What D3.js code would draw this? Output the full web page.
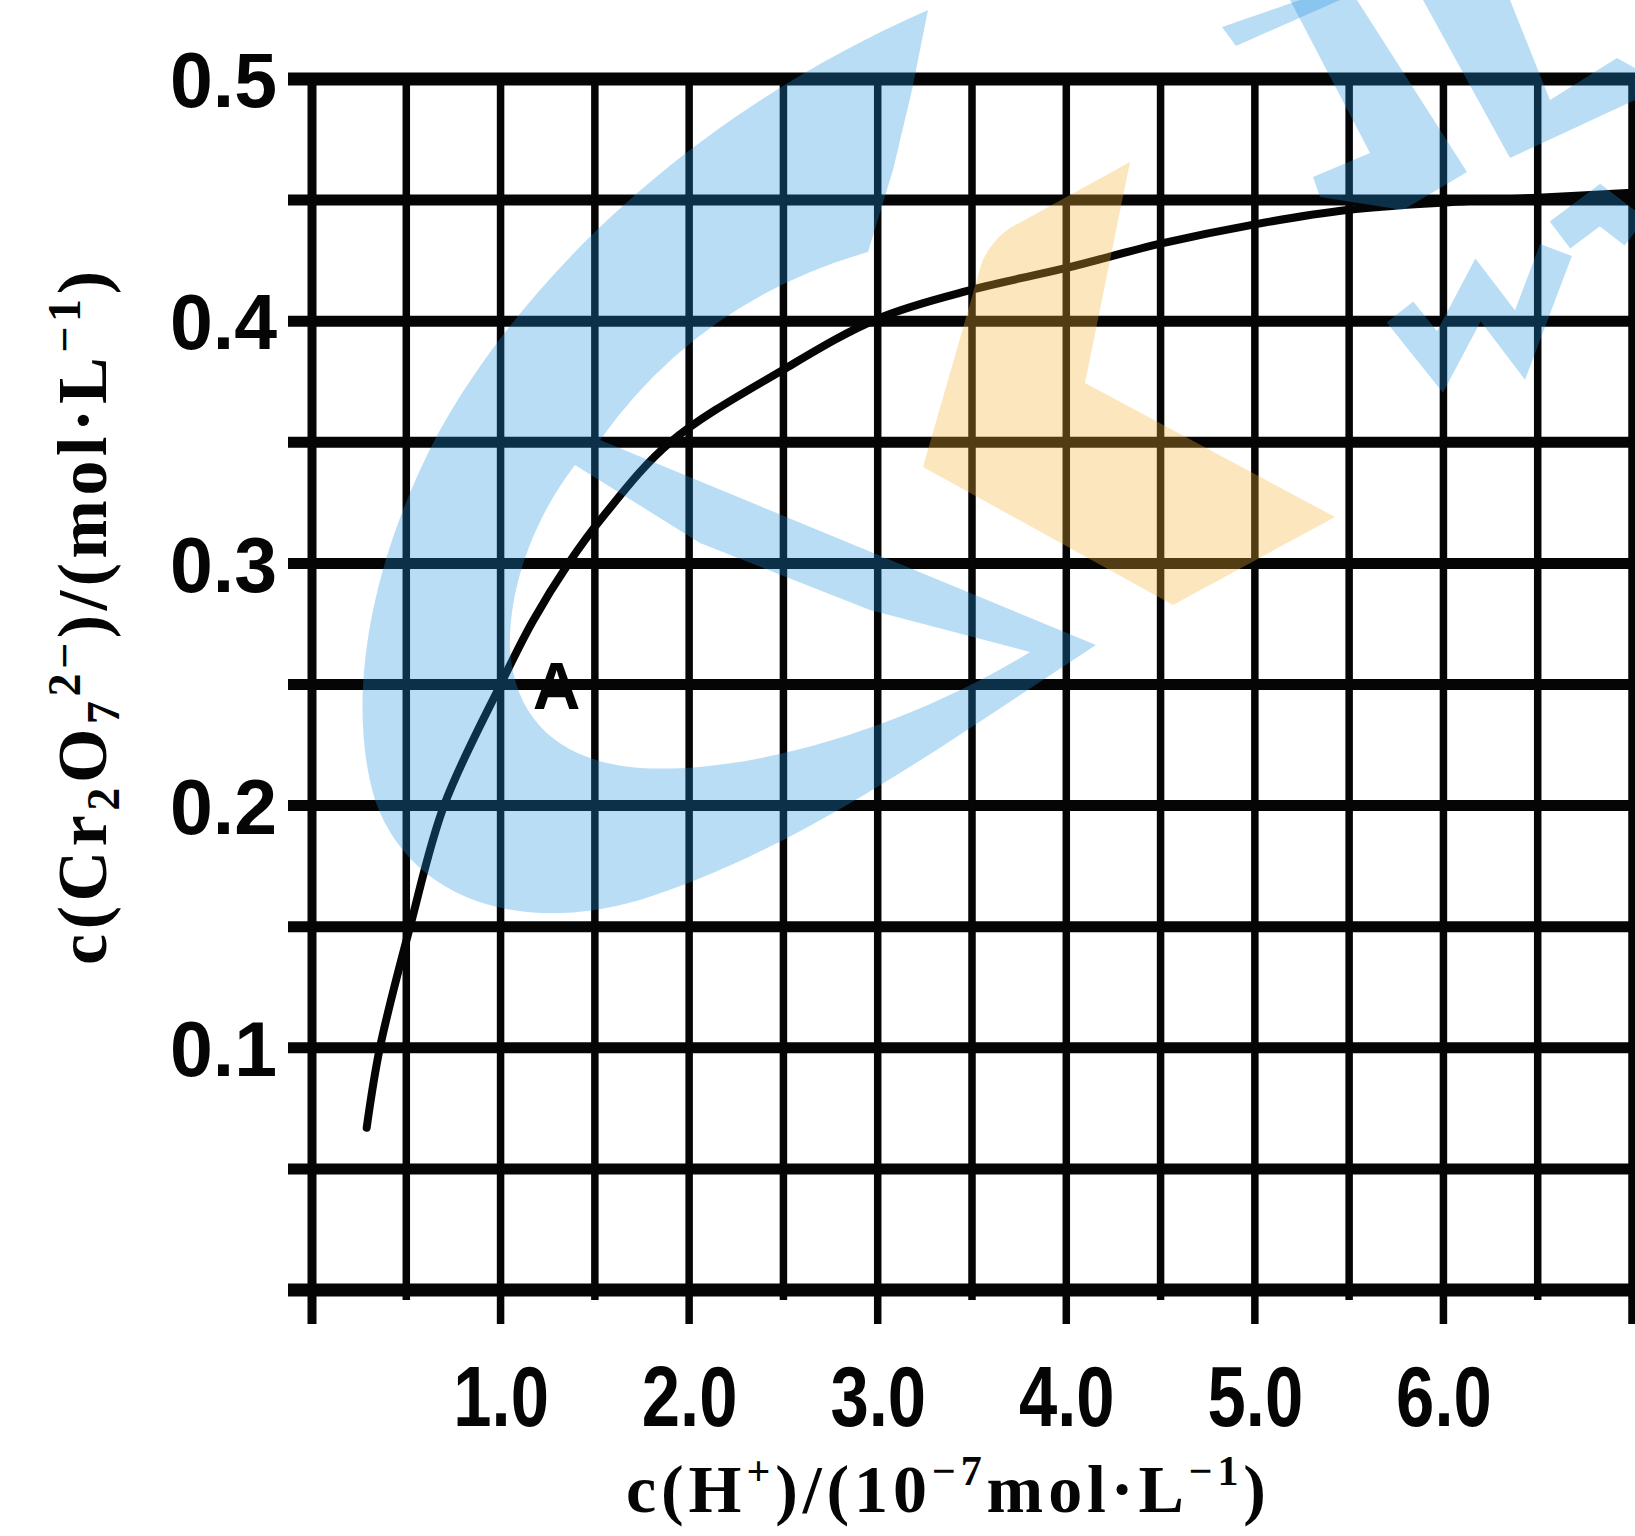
<!DOCTYPE html>
<html>
<head>
<meta charset="utf-8">
<script src="https://cdn.jsdelivr.net/npm/d3@7/dist/d3.min.js"></script>
<style>
  html, body { margin: 0; padding: 0; background: #ffffff; }
  svg { display: block; }
</style>
</head>
<body>
<svg id="chart" width="1635" height="1536"></svg>
<script>
// ---------------- data ----------------
const xTickValues = [1.0, 2.0, 3.0, 4.0, 5.0, 6.0];
const yTickValues = [0.1, 0.2, 0.3, 0.4, 0.5];
const xGridValues = [0, 0.5, 1.0, 1.5, 2.0, 2.5, 3.0, 3.5, 4.0, 4.5, 5.0, 5.5, 6.0, 6.5, 7.0];
const yGridValues = [0, 0.05, 0.10, 0.15, 0.20, 0.25, 0.30, 0.35, 0.40, 0.45, 0.50];
// c(H+) / 10^-7 mol·L^-1
const curveX = [0.29, 0.36, 0.52, 0.70, 1.00, 1.17, 1.36, 1.55, 1.90, 2.50, 3.00, 3.50, 4.00, 4.50, 5.00, 5.50, 6.00, 6.50, 7.00];
// c(Cr2O7 2-) / mol·L^-1
const curveY = [0.067, 0.100, 0.150, 0.200, 0.250, 0.276, 0.300, 0.320, 0.350, 0.380, 0.401, 0.413, 0.422, 0.432, 0.440, 0.446, 0.449, 0.451, 0.453];
const pointA = { x: 1.0, y: 0.25, label: "A" };

// ---------------- setup ----------------
const svg = d3.select("#chart");
const W = 1635, H = 1536;
svg.append("rect").attr("width", W).attr("height", H).attr("fill", "#ffffff");

const x = d3.scaleLinear().domain([0, 7]).range([312, 1632]);
const y = d3.scaleLinear().domain([0, 0.5]).range([1290, 79]);

const ink = "#050505";
const g = svg.append("g");

// horizontal grid lines
g.selectAll("line.h").data(yGridValues).enter().append("line")
  .attr("class", "h")
  .attr("x1", 288).attr("x2", W)
  .attr("y1", d => y(d)).attr("y2", d => y(d))
  .attr("stroke", ink)
  .attr("stroke-width", d => (d === 0 || d === 0.5) ? 13 : 11);

// vertical grid lines (with ticks hanging below the bottom line)
g.selectAll("line.v").data(xGridValues).enter().append("line")
  .attr("class", "v")
  .attr("x1", d => x(d)).attr("x2", d => x(d))
  .attr("y1", y(0.5))
  .attr("y2", d => Number.isInteger(d) ? y(0) + 34 : y(0) + 10)
  .attr("stroke", ink)
  .attr("stroke-width", d => d === 0 ? 9 : 7.5);

// curve
const pts = curveX.map((v, i) => [v, curveY[i]]);
const line = d3.line().x(d => x(d[0])).y(d => y(d[1])).curve(d3.curveCatmullRom.alpha(0.5));
g.append("path").datum(pts)
  .attr("d", line)
  .attr("fill", "none")
  .attr("stroke", ink)
  .attr("stroke-width", 8)
  .attr("stroke-linecap", "round");

// point label A
g.append("text")
  .attr("x", x(pointA.x) + 56).attr("y", y(pointA.y) + 24)
  .attr("text-anchor", "middle")
  .attr("font-family", "Liberation Sans, Arial, sans-serif")
  .attr("font-weight", "bold")
  .attr("font-size", 66)
  .attr("fill", ink)
  .text(pointA.label);

// axes (labels only)
const yAxis = d3.axisLeft(y).tickValues(yTickValues).tickFormat(d3.format(".1f")).tickSize(0).tickPadding(0);
const ya = svg.append("g").attr("transform", "translate(170,0)").call(yAxis);
ya.select(".domain").remove();
ya.selectAll("text")
  .attr("text-anchor", "start")
  .attr("font-family", "Liberation Sans, Arial, sans-serif")
  .attr("font-weight", "bold")
  .attr("font-size", 77)
  .attr("fill", ink)
  .attr("dy", "0.36em");

const xAxis = d3.axisBottom(x).tickValues(xTickValues).tickFormat(d3.format(".1f")).tickSize(0).tickPadding(0);
const xa = svg.append("g").attr("transform", "translate(0,1364)").call(xAxis);
xa.select(".domain").remove();
xa.selectAll("text")
  .attr("font-family", "Liberation Sans, Arial, sans-serif")
  .attr("font-weight", "bold")
  .attr("font-size", 86)
  .attr("fill", ink)
  .attr("dy", "0.72em")
  .each(function () {
    const w = this.getComputedTextLength();
    d3.select(this).attr("textLength", w * 0.8).attr("lengthAdjust", "spacingAndGlyphs");
  });

// axis titles
const serif = "Liberation Serif, Times New Roman, serif";
const yt = svg.append("text")
  .attr("transform", "translate(106,618) rotate(-90)")
  .attr("text-anchor", "middle")
  .attr("font-family", serif).attr("font-weight", "bold").attr("font-size", 70)
  .attr("fill", ink)
  .attr("textLength", 694).attr("lengthAdjust", "spacing");
yt.append("tspan").text("c(Cr");
yt.append("tspan").attr("font-size", 46).attr("dy", 13).text("2");
yt.append("tspan").attr("dy", -13).text("O");
yt.append("tspan").attr("font-size", 46).attr("dy", 13).text("7");
yt.append("tspan").attr("font-size", 46).attr("dy", -39).text("2−");
yt.append("tspan").attr("dy", 26).text(")/(mol·L");
yt.append("tspan").attr("font-size", 46).attr("dy", -26).text("−1");
yt.append("tspan").attr("dy", 26).text(")");

const xt = svg.append("text")
  .attr("x", 946).attr("y", 1512)
  .attr("text-anchor", "middle")
  .attr("font-family", serif).attr("font-weight", "bold").attr("font-size", 68)
  .attr("fill", ink)
  .attr("textLength", 640).attr("lengthAdjust", "spacing");
xt.append("tspan").text("c(H");
xt.append("tspan").attr("font-size", 42).attr("dy", -27).text("+");
xt.append("tspan").attr("dy", 27).text(")/(10");
xt.append("tspan").attr("font-size", 42).attr("dy", -27).text("−7");
xt.append("tspan").attr("dy", 27).text("mol·L");
xt.append("tspan").attr("font-size", 42).attr("dy", -27).text("−1");
xt.append("tspan").attr("dy", 27).text(")");

// ---------------- watermark (decorative) ----------------
const wm = svg.append("g").attr("pointer-events", "none");
const blue = "rgb(32,145,226)", orange = "rgb(247,178,53)";
wm.append("path")
  .attr("fill-rule", "evenodd")
  .attr("fill", blue).attr("fill-opacity", 0.31)
  .attr("d",
    "M928,10 L912,90 L893,170 L868,252 Q700,300 600,440 L1096,645 " +
    "C950,740 800,850 640,900 C520,935 410,900 375,800 C345,700 370,560 440,430 C530,270 700,110 928,10 Z " +
    "M575,465 L700,543 L870,610 L1030,652 C920,720 760,775 640,768 C560,762 515,720 510,650 C508,580 540,510 575,465 Z");
wm.append("path")
  .attr("fill", orange).attr("fill-opacity", 0.32)
  .attr("d", "M1130,162 L1085,383 L1335,517 L1173,605 L923,467 L982,262 Q992,240 1010,228 Z");
const tr = [
  "M1222,27 L1300,0 L1340,0 L1236,46 Z",
  "M1290,0 L1357,0 L1467,172 L1403,210 L1320,197 L1313,177 L1370,153 Z",
  "M1423,0 L1510,0 L1550,100 L1617,58 L1635,68 L1635,100 L1510,158 Z"
];
tr.forEach(d => wm.append("path").attr("d", d).attr("fill", blue).attr("fill-opacity", 0.31));
wm.append("path")
  .attr("d", "M1400,312 L1440,362 L1478,290 L1520,345 L1556,250")
  .attr("fill", "none").attr("stroke", blue).attr("stroke-opacity", 0.31)
  .attr("stroke-width", 34).attr("stroke-linejoin", "miter");
wm.append("path")
  .attr("d", "M1560,235 L1600,205 L1635,232")
  .attr("fill", "none").attr("stroke", blue).attr("stroke-opacity", 0.31)
  .attr("stroke-width", 34);
</script>
</body>
</html>
